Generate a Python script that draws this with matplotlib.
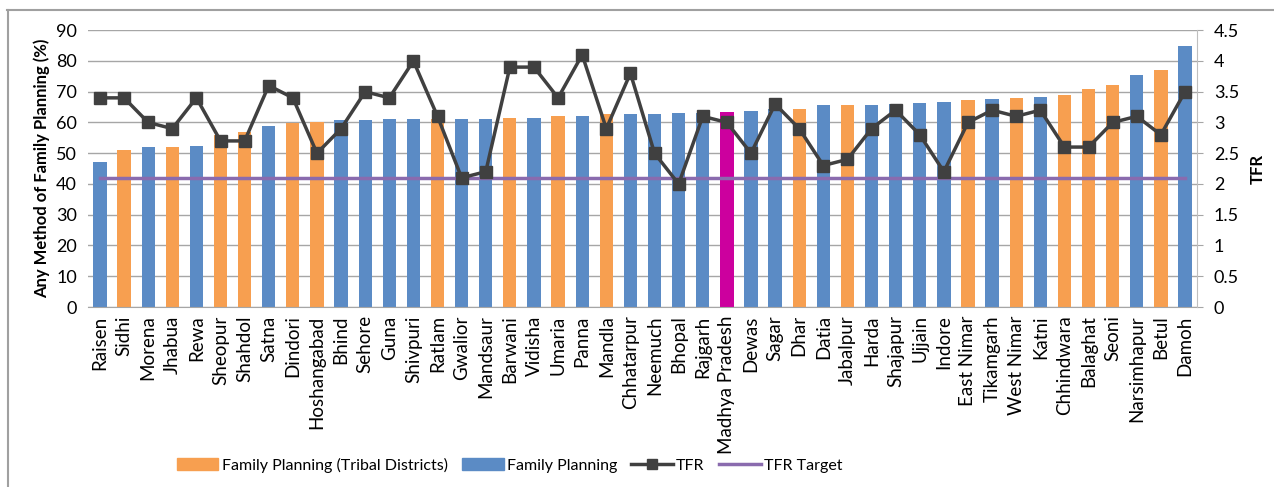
import numpy as np
import matplotlib
matplotlib.use("Agg")
from matplotlib import pyplot as plt
from matplotlib.patches import Patch
from matplotlib.lines import Line2D

plt.rcParams['font.family'] = ['Lato', 'DejaVu Sans']

districts = ["Raisen", "Sidhi", "Morena", "Jhabua", "Rewa", "Sheopur", "Shahdol", "Satna",
             "Dindori", "Hoshangabad", "Bhind", "Sehore", "Guna", "Shivpuri", "Ratlam",
             "Gwalior", "Mandsaur", "Barwani", "Vidisha", "Umaria", "Panna", "Mandla",
             "Chhatarpur", "Neemuch", "Bhopal", "Rajgarh", "Madhya Pradesh", "Dewas",
             "Sagar", "Dhar", "Datia", "Jabalpur", "Harda", "Shajapur", "Ujjain", "Indore",
             "East Nimar", "Tikamgarh", "West Nimar", "Katni", "Chhindwara", "Balaghat",
             "Seoni", "Narsimhapur", "Betul", "Damoh"]

family_planning = [47.2, 51.0, 52.1, 52.1, 52.4, 56.0, 56.9, 59.0, 59.8, 60.3, 60.7, 60.7,
                   61.0, 61.0, 61.0, 61.2, 61.2, 61.5, 61.5, 62.0, 62.0, 62.6, 62.6, 62.6,
                   63.1, 63.1, 63.5, 63.7, 64.5, 64.5, 65.6, 65.6, 65.6, 66.0, 66.2, 66.5,
                   67.4, 67.6, 68.1, 68.4, 69.0, 70.9, 72.3, 75.4, 77.0, 84.8]

tfr = [3.4, 3.4, 3.0, 2.9, 3.4, 2.7, 2.7, 3.6, 3.4, 2.5, 2.9, 3.5, 3.4, 4.0, 3.1, 2.1,
       2.2, 3.9, 3.9, 3.4, 4.1, 2.9, 3.8, 2.5, 2.0, 3.1, 3.0, 2.5, 3.3, 2.9, 2.3, 2.4,
       2.9, 3.2, 2.8, 2.2, 3.0, 3.2, 3.1, 3.2, 2.6, 2.6, 3.0, 3.1, 2.8, 3.5]

tfr_target = 2.1

tribal = ["Sidhi", "Jhabua", "Sheopur", "Shahdol", "Dindori", "Hoshangabad", "Ratlam",
          "Barwani", "Umaria", "Mandla", "Dhar", "Jabalpur", "East Nimar", "West Nimar",
          "Chhindwara", "Balaghat", "Seoni", "Betul"]
state = "Madhya Pradesh"

BLUE = "#5B8BC5"
ORANGE = "#F79F50"
MAGENTA = "#CC009E"
DARK = "#404040"
PURPLE = "#8A6BAE"

colors = []
for d in districts:
    if d == state:
        colors.append(MAGENTA)
    elif d in tribal:
        colors.append(ORANGE)
    else:
        colors.append(BLUE)

fig = plt.figure(figsize=(12.74, 4.87), dpi=100)
ax = fig.add_axes([0.069, 0.3696, 0.8706, 0.5684])

# chart-area frame: only left and top edges show in the original
W, H = 1274.0, 487.0
fig.add_artist(Line2D([7.5 / W, 7.5 / W], [0, 1 - 9.5 / H], transform=fig.transFigure,
                      color="#A0A0A0", linewidth=1.5))
fig.add_artist(Line2D([7 / W, 1], [1 - 9.5 / H, 1 - 9.5 / H], transform=fig.transFigure,
                      color="#A0A0A0", linewidth=1.5))

x = np.arange(len(districts))
ax.bar(x, family_planning, width=0.55, color=colors, zorder=2)
ax.set_xlim(-0.5, len(districts) - 0.5)
ax.set_ylim(0, 90)
ax.set_yticks(np.arange(0, 91, 10))
ax.grid(axis="y", color="#A6A6A6", linewidth=1, zorder=0)
ax.set_axisbelow(True)
ax.set_xticks(x)
ax.set_xticklabels(districts, rotation=90, fontsize=13.5)
ax.tick_params(axis="x", length=0, pad=6)
ax.tick_params(axis="y", length=0, labelsize=13, pad=8)
ax.set_ylabel("Any Method of Family Planning (%)", fontsize=12, fontweight="bold")
for s in ["top", "left", "right"]:
    ax.spines[s].set_visible(False)
ax.spines["bottom"].set_color("#A6A6A6")

ax2 = ax.twinx()
ax2.plot(x, tfr, color=DARK, linewidth=2.5, marker="s", markersize=8, zorder=4)
ax2.plot([x[0], x[-1]], [tfr_target, tfr_target], color=PURPLE, linewidth=2.5, zorder=3)
ax2.set_ylim(0, 4.5)
ax2.set_yticks(np.arange(0, 4.51, 0.5))
ax2.set_yticklabels(["0", "0.5", "1", "1.5", "2", "2.5", "3", "3.5", "4", "4.5"])
ax2.tick_params(axis="y", length=4, color="#A6A6A6", labelsize=13, pad=8)
ax2.set_ylabel("TFR", fontsize=12, fontweight="bold", labelpad=8)
for s in ["top", "left", "bottom"]:
    ax2.spines[s].set_visible(False)
ax2.spines["right"].set_color("#BFBFBF")

handles = [Patch(color=ORANGE), Patch(color=BLUE),
           Line2D([], [], color=DARK, linewidth=2.5, marker="s", markersize=7),
           Line2D([], [], color=PURPLE, linewidth=2.5)]
labels = ["Family Planning (Tribal Districts)", "Family Planning", "TFR", "TFR Target"]
fig.legend(handles, labels, loc="center", bbox_to_anchor=(0.40, 0.045), ncol=4,
           frameon=False, fontsize=11.5, handlelength=2.6, columnspacing=0.9,
           handletextpad=0.2)

fig.savefig("out.png", dpi=100)
